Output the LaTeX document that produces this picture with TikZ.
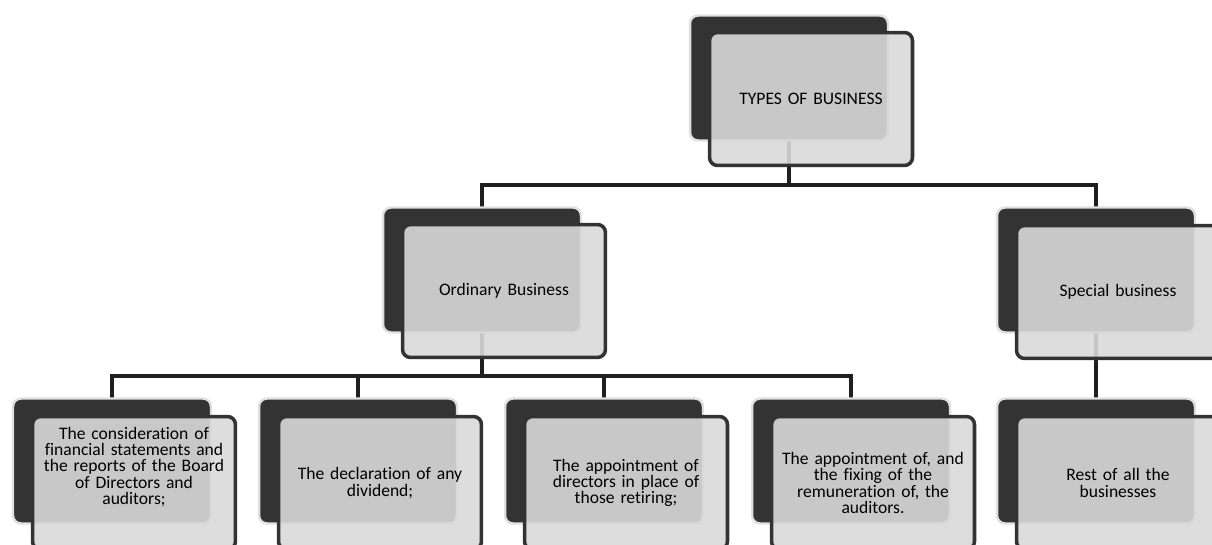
\documentclass[tikz,border=0pt]{standalone}
\usepackage{fontspec}
\setmainfont{Carlito}[Ligatures=NoCommon]
\usetikzlibrary{backgrounds}

\begin{document}
\begin{tikzpicture}[x=0.02cm,y=-0.02cm,
  backbox/.style={draw=black!12,line width=1.4pt,fill=black!80,rounded corners=0.16cm,
    minimum width=3.96cm,minimum height=2.5cm},
  frontbox/.style={draw=black!80,line width=2pt,fill=black!15,fill opacity=0.9,text opacity=1,
    rounded corners=0.16cm,minimum width=4.06cm,minimum height=2.66cm,inner xsep=1pt,
    text width=3.9cm,align=center,text=black,font=\fontsize{10}{9.2}\selectfont},
  boxtext/.style={inner sep=0pt,text width=3.9cm,align=center,text=black,
    font=\fontsize{10}{9.2}\selectfont},
  conn/.style={draw=black!88,line width=2pt}]
\clip (0,0) rectangle (1212,544);

\coordinate (split1) at (789,185);
\coordinate (split2) at (482,376);

% top level
\node[backbox] (typesb) at (789,78) {};
\node[frontbox] (types) at ([shift={(22,21)}]typesb.center) {TYPES OF BUSINESS};

% second level
\node[backbox] (ordb) at (482,270) {};
\node[frontbox] (ord) at ([shift={(22,21)}]ordb.center) {Ordinary Business};
\node[backbox] (spcb) at (1096,270) {};
\node[frontbox] (spc) at ([shift={(22,22)}]spcb.center) {Special business};

% third level
\node[backbox] (b1b) at (112,461) {};
\node[frontbox] (b1) at ([shift={(22,22)}]b1b.center) {};
\node[boxtext] (b1t) at ([yshift=0.32cm]b1.center)
  {The consideration of\\ financial statements and\\ the reports of the Board\\ of Directors and\\ auditors;};
\node[backbox] (b2b) at (358,461) {};
\node[frontbox] (b2) at ([shift={(22,22)}]b2b.center) {The declaration of any\\ dividend;};
\node[backbox] (b3b) at (604,461) {};
\node[frontbox] (b3) at ([shift={(22,22)}]b3b.center) {The appointment of\\ directors in place of\\ those retiring;};
\node[backbox] (b4b) at (851,461) {};
\node[frontbox] (b4) at ([shift={(22,22)}]b4b.center) {The appointment of, and\\ the fixing of the\\ remuneration of, the\\ auditors.};
\node[backbox] (b5b) at (1096,461) {};
\node[frontbox] (b5) at ([shift={(22,22)}]b5b.center) {Rest of all the\\ businesses};

% connectors
\begin{scope}[on background layer]
\draw[conn] (typesb.center) |- (split1) -| (ordb.center);
\draw[conn] (split1) -| (spcb.center);
\draw[conn] (ordb.center) |- (split2) -| (b1b.center);
\foreach \n in {b2b,b3b,b4b}
  \draw[conn] (split2) -| (\n.center);
\draw[conn] (spcb.center) -- (b5b.center);
\end{scope}
\end{tikzpicture}
\end{document}
